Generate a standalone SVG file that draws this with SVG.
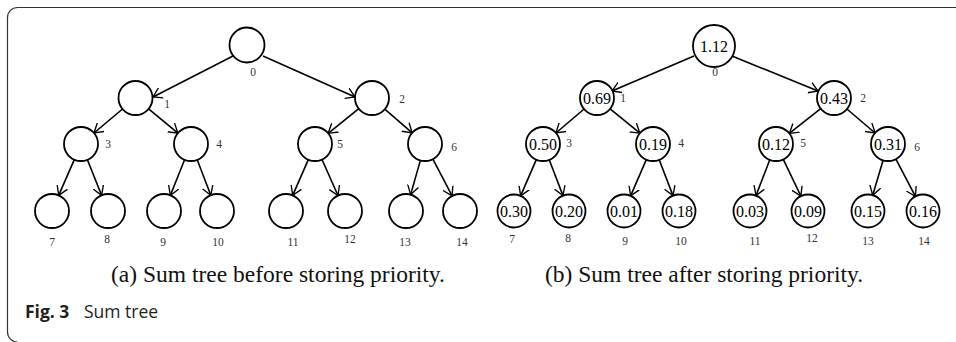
<svg xmlns="http://www.w3.org/2000/svg" width="956" height="342" viewBox="0 0 956 342">
  <defs>
    <marker id="arrow" viewBox="0 0 10 14" markerUnits="userSpaceOnUse" markerWidth="9" markerHeight="12.6" refX="10" refY="7" orient="auto">
      <path d="M0,0.8 L10,7 L0,13.2" fill="none" stroke="#000" stroke-width="1.5"/>
    </marker>
  </defs>
  <style>
    .frame { fill: none; stroke: #333; stroke-width: 1.2; }
    .node circle { fill: #fff; stroke: #000; stroke-width: 1.8; }
    .val { font-family: "Liberation Serif", "Times New Roman", serif; font-size: 16px; fill: #000; text-anchor: middle; }
    .idx { font-family: "Liberation Serif", "Times New Roman", serif; font-size: 11.5px; fill: #333; text-anchor: middle; }
    .edges line { stroke: #000; stroke-width: 1.6; marker-end: url(#arrow); }
    .cap { font-family: "Liberation Serif", "Times New Roman", serif; font-size: 23.5px; fill: #111; text-anchor: middle; }
    .fig { font-family: "Open Sans", "Liberation Sans", sans-serif; font-size: 17.5px; fill: #231f20; }
  </style>
  <rect width="956" height="342" fill="#fff"/>
  <!-- figure frame: top rule and left rule with rounded corners -->
  <path class="frame" d="M956,7.5 H17.5 A10,10 0 0 0 7.5,17.5 V332 A10,10 0 0 0 17.5,342"/>

  <!-- connectors -->
  <g id="edges" class="edges">
    <!-- tree (a) -->
    <line x1="233" y1="56" x2="153" y2="97"/>
    <line x1="263" y1="56" x2="355" y2="97"/>
    <line x1="122.5" y1="109" x2="94" y2="133"/>
    <line x1="148.6" y1="108.8" x2="177.9" y2="133.2"/>
    <line x1="358.8" y1="108.7" x2="328.2" y2="133.3"/>
    <line x1="384.8" y1="109.1" x2="412.2" y2="132.9"/>
    <line x1="74.3" y1="159.6" x2="58.7" y2="195.4"/>
    <line x1="87.4" y1="159.8" x2="101.6" y2="195.2"/>
    <line x1="184.6" y1="159.8" x2="170.4" y2="195.2"/>
    <line x1="197.2" y1="159.8" x2="210.8" y2="195.2"/>
    <line x1="308.3" y1="159.6" x2="292.7" y2="195.4"/>
    <line x1="322" y1="159.5" x2="338" y2="195.5"/>
    <line x1="420.4" y1="160.4" x2="410.6" y2="194.6"/>
    <line x1="432.9" y1="159.1" x2="452.1" y2="195.9"/>
    <!-- tree (b) -->
    <line x1="694" y1="56" x2="612" y2="91"/>
    <line x1="732" y1="56" x2="818" y2="91"/>
    <line x1="584.1" y1="109" x2="555.9" y2="133"/>
    <line x1="610.1" y1="108.8" x2="639.9" y2="133.2"/>
    <line x1="820.7" y1="108.6" x2="789.3" y2="133.4"/>
    <line x1="846.9" y1="109" x2="875.1" y2="133"/>
    <line x1="536.3" y1="159.6" x2="520.6" y2="195.9"/>
    <line x1="549.2" y1="159.8" x2="563" y2="195.6"/>
    <line x1="646.3" y1="159.6" x2="630.6" y2="195.9"/>
    <line x1="659.2" y1="159.8" x2="673" y2="195.6"/>
    <line x1="769.8" y1="159.8" x2="756" y2="195.6"/>
    <line x1="783.3" y1="159.4" x2="800.9" y2="196.1"/>
    <line x1="883.1" y1="160.3" x2="872.7" y2="195.2"/>
    <line x1="895.9" y1="159.1" x2="915.4" y2="196.4"/>
  </g>

  <!-- tree (a): empty sum tree -->
  <g id="a-n0" class="node"><circle cx="247" cy="45" r="17.5"/><text class="idx" x="253" y="76">0</text></g>
  <g id="a-n1" class="node"><circle cx="135.5" cy="98" r="17"/><text class="idx" x="167" y="108">1</text></g>
  <g id="a-n2" class="node"><circle cx="372" cy="98" r="17"/><text class="idx" x="402" y="103">2</text></g>
  <g id="a-n3" class="node"><circle cx="81" cy="144" r="17"/><text class="idx" x="108" y="148">3</text></g>
  <g id="a-n4" class="node"><circle cx="191" cy="144" r="17"/><text class="idx" x="219" y="148">4</text></g>
  <g id="a-n5" class="node"><circle cx="315" cy="144" r="17"/><text class="idx" x="340" y="148">5</text></g>
  <g id="a-n6" class="node"><circle cx="425" cy="144" r="17"/><text class="idx" x="454" y="151">6</text></g>
  <g id="a-n7" class="node"><circle cx="52" cy="211" r="17"/><text class="idx" x="52" y="246">7</text></g>
  <g id="a-n8" class="node"><circle cx="108" cy="211" r="17"/><text class="idx" x="107" y="243">8</text></g>
  <g id="a-n9" class="node"><circle cx="164" cy="211" r="17"/><text class="idx" x="163" y="246">9</text></g>
  <g id="a-n10" class="node"><circle cx="217" cy="211" r="17"/><text class="idx" x="218" y="246">10</text></g>
  <g id="a-n11" class="node"><circle cx="286" cy="211" r="17"/><text class="idx" x="293" y="246">11</text></g>
  <g id="a-n12" class="node"><circle cx="345" cy="211" r="17"/><text class="idx" x="350" y="243">12</text></g>
  <g id="a-n13" class="node"><circle cx="406" cy="211" r="17"/><text class="idx" x="405" y="246">13</text></g>
  <g id="a-n14" class="node"><circle cx="460" cy="211" r="17"/><text class="idx" x="462" y="246">14</text></g>

  <!-- tree (b): sum tree with stored priorities -->
  <g id="b-n0" class="node"><circle cx="714" cy="46" r="21"/><text class="val" x="714" y="51.5">1.12</text><text class="idx" x="715" y="76">0</text></g>
  <g id="b-n1" class="node"><circle cx="597" cy="98" r="17"/><text class="val" x="597" y="103.5">0.69</text><text class="idx" x="623" y="102">1</text></g>
  <g id="b-n2" class="node"><circle cx="834" cy="98" r="17"/><text class="val" x="834" y="103.5">0.43</text><text class="idx" x="863" y="102">2</text></g>
  <g id="b-n3" class="node"><circle cx="543" cy="144" r="17"/><text class="val" x="543" y="149.5">0.50</text><text class="idx" x="569" y="147">3</text></g>
  <g id="b-n4" class="node"><circle cx="653" cy="144" r="17"/><text class="val" x="653" y="149.5">0.19</text><text class="idx" x="681" y="147">4</text></g>
  <g id="b-n5" class="node"><circle cx="776" cy="144" r="17"/><text class="val" x="776" y="149.5">0.12</text><text class="idx" x="803" y="147">5</text></g>
  <g id="b-n6" class="node"><circle cx="888" cy="144" r="17"/><text class="val" x="888" y="149.5">0.31</text><text class="idx" x="917" y="151">6</text></g>
  <g id="b-n7" class="node"><circle cx="514" cy="211" r="16.5"/><text class="val" x="514" y="216.5">0.30</text><text class="idx" x="512" y="243">7</text></g>
  <g id="b-n8" class="node"><circle cx="569" cy="211" r="16.5"/><text class="val" x="569" y="216.5">0.20</text><text class="idx" x="568" y="242">8</text></g>
  <g id="b-n9" class="node"><circle cx="624" cy="211" r="16.5"/><text class="val" x="624" y="216.5">0.01</text><text class="idx" x="625" y="245">9</text></g>
  <g id="b-n10" class="node"><circle cx="679" cy="211" r="16.5"/><text class="val" x="679" y="216.5">0.18</text><text class="idx" x="681" y="245">10</text></g>
  <g id="b-n11" class="node"><circle cx="750" cy="211" r="16.5"/><text class="val" x="750" y="216.5">0.03</text><text class="idx" x="755" y="245">11</text></g>
  <g id="b-n12" class="node"><circle cx="808" cy="211" r="16.5"/><text class="val" x="808" y="216.5">0.09</text><text class="idx" x="812" y="242">12</text></g>
  <g id="b-n13" class="node"><circle cx="868" cy="211" r="16.5"/><text class="val" x="868" y="216.5">0.15</text><text class="idx" x="868" y="245">13</text></g>
  <g id="b-n14" class="node"><circle cx="923" cy="211" r="16.5"/><text class="val" x="923" y="216.5">0.16</text><text class="idx" x="924" y="245">14</text></g>

  <!-- sub-captions -->
  <text class="cap" x="278" y="282">(a) Sum tree before storing priority.</text>
  <text class="cap" x="704" y="282">(b) Sum tree after storing priority.</text>

  <!-- figure caption -->
  <text class="fig" x="25" y="318"><tspan font-weight="bold">Fig. 3</tspan><tspan x="84">Sum tree</tspan></text>
</svg>
